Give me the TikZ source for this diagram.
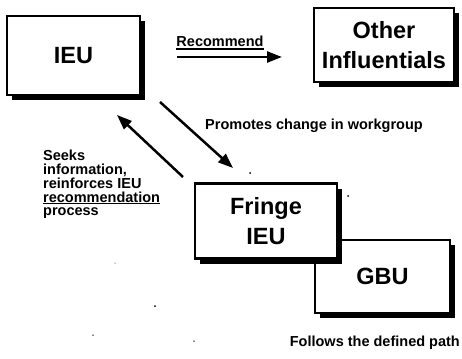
\documentclass[tikz,border=0pt]{standalone}
\usepackage{fontspec}
\setmainfont{Liberation Sans}
\usetikzlibrary{arrows.meta,shadows}
\begin{document}
\begin{tikzpicture}[x=1pt,y=-1pt,
  box/.style={draw=black,line width=2.2pt,fill=white,inner sep=0pt,align=center,
    font=\fontsize{23.5}{30}\selectfont\bfseries,
    drop shadow={shadow xshift=4.5pt,shadow yshift=-5pt,fill=black,opacity=1}},
  lbl/.style={inner sep=0pt,font=\fontsize{14.5}{13.8}\selectfont\bfseries},
  arr/.style={line width=2.5pt,-{Triangle[length=15pt,width=11pt]}},
  speck/.style={fill=black,circle,inner sep=0pt,minimum size=2pt}]
\useasboundingbox[fill=white] (0,0) rectangle (462,358);
% boxes
\node[box,minimum width=133pt,minimum height=79pt] (ieu) at (73.5,55.5) {IEU};
\node[box,minimum width=140pt,minimum height=74pt] (oth) at (384,45) {Other\\Influentials};
\node[box,minimum width=135pt,minimum height=73pt] (gbu) at (382.5,276.5) {GBU};
\node[box,minimum width=142pt,minimum height=75pt] (fri) at (266,221) {Fringe\\IEU};
% labels
\node[lbl] (rec) at (220,41) {Recommend};
\draw[line width=1.6pt] ([yshift=-3pt]rec.base west) -- ([yshift=-3pt]rec.base east);
\node[lbl] (prom) at (314,126) {Promotes change in workgroup};
\node[lbl,anchor=north west,align=left] (seek) at (43,150)
  {Seeks\\information,\\reinforces IEU\\\underline{recommendation}\\process};
\node[lbl,anchor=east] (fol) at (460,343) {Follows the defined path};
% arrow end points
\coordinate (r1) at (177,57);
\coordinate (r2) at (282,57);
\coordinate (d1) at (160,102);
\coordinate (d2) at (233,168);
\coordinate (u1) at (183,177);
\coordinate (u2) at (117,115);
\draw[arr] (r1) -- (r2);
\draw[arr] (d1) -- (d2);
\draw[arr] (u1) -- (u2);
% specks
\node[speck] (s1) at (250,173) {};
\node[speck] (s2) at (348,196) {};
\node[speck,minimum size=1pt] (s3) at (115,263) {};
\node[speck] (s4) at (155,306) {};
\node[speck,minimum size=1.5pt] (s5) at (93,335) {};
\node[speck,minimum size=1.5pt] (s6) at (194,341) {};
\end{tikzpicture}
\end{document}
